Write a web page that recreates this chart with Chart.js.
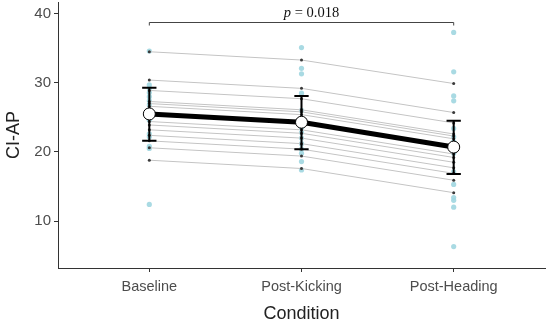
<!DOCTYPE html>
<html>
<head>
<meta charset="utf-8">
<script src="https://cdn.jsdelivr.net/npm/chart.js@4.4.0/dist/chart.umd.min.js"></script>
<style>
  body { margin: 0; background: #fff; }
</style>
</head>
<body>
<canvas id="chart" width="550" height="325"></canvas>
<script>
// categories and tick labels
const conditions = ["Baseline", "Post-Kicking", "Post-Heading"];
const yTicks = [10, 20, 30, 40];

// raw observations per condition (light blue dots)
const baselineRaw = [34.6, 29.7, 29.2, 28.6, 28.0, 27.4, 26.8, 26.0, 24.6, 22.6, 22.2, 20.8, 20.5, 12.4];
const kickingRaw = [35.1, 32.1, 31.3, 28.5, 26.0, 24.8, 23.5, 22.8, 22.0, 21.2, 20.4, 19.8, 18.6, 17.4];
const headingRaw = [37.3, 31.6, 28.1, 27.4, 23.4, 22.2, 21.5, 19.8, 17.1, 15.3, 13.4, 13.0, 12.0, 6.3];

// fitted values per subject: [Baseline, Post-Kicking, Post-Heading]
const subjectFits = [
  [34.5, 33.3, 29.9],
  [30.4, 29.2, 25.7],
  [28.9, 27.7, 24.2],
  [27.3, 26.1, 22.6],
  [27.0, 25.8, 22.3],
  [26.6, 25.4, 21.9],
  [25.6, 24.4, 20.9],
  [24.4, 23.2, 19.7],
  [23.9, 22.7, 19.2],
  [23.2, 22.0, 18.5],
  [22.4, 21.2, 17.7],
  [21.6, 20.4, 16.9],
  [20.6, 19.4, 15.9],
  [18.8, 17.6, 14.1],
];

// group means and error bars
const meanVals = [25.5, 24.3, 20.7];
const errHigh = [29.3, 28.1, 24.5];
const errLow = [21.6, 20.4, 16.8];

// significance annotation
const pLabel = "0.018";
const bracketY = 38.8;

const sans = "'Liberation Sans', Arial, sans-serif";

// build datasets (listed bottom layer first)
const rawPoints = [];
[baselineRaw, kickingRaw, headingRaw].forEach((arr, i) => {
  arr.forEach((v) => rawPoints.push({ x: i, y: v }));
});

const datasets = [];
datasets.push({
  data: rawPoints,
  pointRadius: 2.6,
  pointBackgroundColor: "rgba(160, 214, 224, 0.9)",
  pointBorderWidth: 0,
  showLine: false,
});

for (const s of subjectFits) {
  datasets.push({
    data: s.map((v, i) => ({ x: i, y: v })),
    showLine: true,
    borderColor: "#c4c4c4",
    borderWidth: 1,
    pointRadius: 0,
  });
}

const fitPoints = [];
for (const s of subjectFits) {
  s.forEach((v, i) => fitPoints.push({ x: i, y: v }));
}
datasets.push({
  data: fitPoints,
  pointRadius: 1.5,
  pointBackgroundColor: "#3a3a3a",
  pointBorderWidth: 0,
  showLine: false,
});

datasets.push({
  data: meanVals.map((v, i) => ({ x: i, y: v })),
  showLine: true,
  borderColor: "#000",
  borderWidth: 5,
  pointRadius: 0,
});

// error bars: vertical line + caps, separated by gaps
const capHalf = 0.047;
const errData = [];
meanVals.forEach((m, i) => {
  errData.push({ x: i, y: errLow[i] }, { x: i, y: errHigh[i] }, { x: i, y: null });
  errData.push({ x: i - capHalf, y: errHigh[i] }, { x: i + capHalf, y: errHigh[i] }, { x: i, y: null });
  errData.push({ x: i - capHalf, y: errLow[i] }, { x: i + capHalf, y: errLow[i] }, { x: i, y: null });
});
datasets.push({
  data: errData,
  showLine: true,
  spanGaps: false,
  borderColor: "#000",
  borderWidth: 2,
  pointRadius: 0,
});

datasets.push({
  data: meanVals.map((v, i) => ({ x: i, y: v })),
  showLine: false,
  pointRadius: 6,
  pointBackgroundColor: "#fff",
  pointBorderColor: "#000",
  pointBorderWidth: 1,
});

// chart.js draws lower order on top, so later datasets get lower order
datasets.forEach((d, i) => {
  d.order = datasets.length - i;
});

// bracket with p value
const bracketPlugin = {
  id: "bracket",
  afterDatasetsDraw(chart) {
    const ctx = chart.ctx;
    const xs = chart.scales.x;
    const ys = chart.scales.y;
    const x1 = xs.getPixelForValue(0);
    const x2 = xs.getPixelForValue(2);
    const y = Math.round(ys.getPixelForValue(bracketY)) + 0.5;
    ctx.save();
    ctx.strokeStyle = "#444";
    ctx.lineWidth = 1;
    ctx.beginPath();
    ctx.moveTo(x1, y + 3);
    ctx.lineTo(x1, y);
    ctx.lineTo(x2, y);
    ctx.lineTo(x2, y + 3);
    ctx.stroke();

    ctx.fillStyle = "#111";
    ctx.textBaseline = "alphabetic";
    const italic = "italic 14.5px 'Liberation Serif', 'Times New Roman', serif";
    const normal = "14.5px 'Liberation Serif', 'Times New Roman', serif";
    ctx.font = italic;
    const w1 = ctx.measureText("p").width;
    ctx.font = normal;
    const rest = " = " + pLabel;
    const w2 = ctx.measureText(rest).width;
    const start = (x1 + x2) / 2 + 10 - (w1 + w2) / 2;
    const baseY = y - 6;
    ctx.font = italic;
    ctx.fillText("p", start, baseY);
    ctx.font = normal;
    ctx.fillText(rest, start + w1, baseY);
    ctx.restore();
  },
};

new Chart(document.getElementById("chart"), {
  type: "scatter",
  data: { datasets: datasets },
  options: {
    responsive: false,
    animation: false,
    layout: { autoPadding: false, padding: { top: 2, right: 5, left: 0, bottom: 0 } },
    plugins: {
      legend: { display: false },
      tooltip: { enabled: false },
    },
    scales: {
      x: {
        type: "linear",
        min: -0.6,
        max: 2.6,
        afterBuildTicks: (scale) => {
          scale.ticks = conditions.map((c, i) => ({ value: i }));
        },
        afterFit: (scale) => {
          scale.height = 57;
          scale.paddingLeft = 0;
          scale.paddingRight = 0;
        },
        ticks: {
          callback: (v) => conditions[v],
          color: "#4d4d4d",
          font: { family: sans, size: 14.5 },
          padding: 6,
          maxRotation: 0,
        },
        grid: {
          drawOnChartArea: false,
          drawTicks: true,
          tickLength: 4,
          tickColor: "#333",
        },
        border: { color: "#333", width: 1 },
        title: {
          display: true,
          text: "Condition",
          color: "#222",
          font: { family: sans, size: 18 },
          padding: { top: 0, bottom: 0 },
        },
      },
      y: {
        type: "linear",
        min: 3.2,
        max: 41.7,
        afterBuildTicks: (scale) => {
          scale.ticks = yTicks.map((v) => ({ value: v }));
        },
        afterFit: (scale) => {
          scale.width = 58;
          scale.paddingTop = 0;
          scale.paddingBottom = 0;
        },
        ticks: {
          color: "#4d4d4d",
          font: { family: sans, size: 15 },
          padding: 3,
        },
        grid: {
          drawOnChartArea: false,
          drawTicks: true,
          tickLength: 4,
          tickColor: "#333",
        },
        border: { color: "#333", width: 1 },
        title: {
          display: true,
          text: "CI-AP",
          color: "#222",
          font: { family: sans, size: 18 },
          padding: { top: 3, bottom: 0 },
        },
      },
    },
  },
  plugins: [bracketPlugin],
});
</script>
</body>
</html>
